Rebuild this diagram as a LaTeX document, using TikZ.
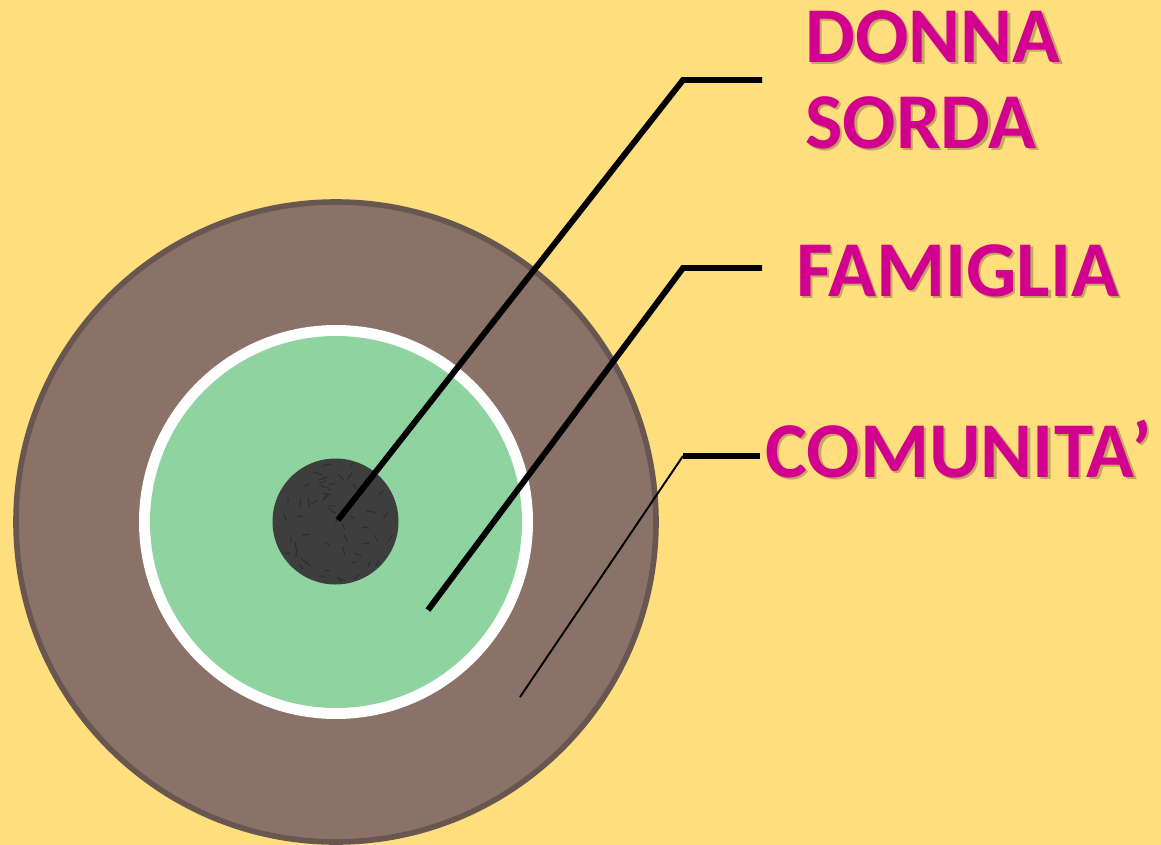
\documentclass[tikz,border=0pt]{standalone}
\usepackage{fontspec}
\newfontfamily\labelfont{Carlito}
\definecolor{bgyellow}{RGB}{255,222,126}
\definecolor{ringbrown}{RGB}{139,114,105}
\definecolor{ringedge}{RGB}{104,86,80}
\definecolor{famgreen}{RGB}{142,211,160}
\definecolor{coredark}{RGB}{62,62,62}
\definecolor{labelpink}{RGB}{210,0,142}
\tikzset{
  leader/.style={black, line width=3.4pt, line cap=butt, line join=miter},
  thinleader/.style={black, line width=1.1pt},
  lbl/.style={anchor=base west, inner sep=0pt, text=labelpink, font=\labelfont\bfseries\fontsize{45}{50}\selectfont},
  lblshadow/.style={anchor=base west, inner sep=0pt, text=black!60!bgyellow, opacity=0.4, font=\labelfont\bfseries\fontsize{45}{50}\selectfont}
}
\begin{document}
\begin{tikzpicture}[x=0.02cm,y=-0.02cm]
\useasboundingbox (0,0) rectangle (1161,845);
\clip (0,0) rectangle (1161,845);
\fill[bgyellow] (0,0) rectangle (1161,845);
% rings
\coordinate (c) at (336,522);
\fill[ringbrown, draw=ringedge, line width=3.2pt] (c) circle (320);
\fill[white] (c) circle (197);
\fill[famgreen] (c) circle (186);
\fill[coredark] (335.5,521.5) circle (63);
\pgfmathsetseed{7}
\begin{scope}
\clip (335.5,521.5) circle (61);
\foreach \i in {1,...,70}{
  \pgfmathsetmacro{\px}{275+rnd*122}
  \pgfmathsetmacro{\py}{460+rnd*122}
  \pgfmathsetmacro{\ang}{rnd*180}
  \draw[black!85, line width=0.6pt, opacity=0.7] (\px,\py) -- ++(\ang:4+rnd*6);
}
\end{scope}
% anchor points
\coordinate (donnaEnd) at (338,520);
\coordinate (donnaBend) at (683,80);
\coordinate (donnaTip) at (762,80);
\coordinate (famEnd) at (428,610);
\coordinate (famBend) at (683,268);
\coordinate (famTip) at (762,268);
\coordinate (comEnd) at (520,697);
\coordinate (comBend) at (683,456);
\coordinate (comTip) at (760,456);
% leaders
\draw[leader] (donnaEnd) -- (donnaBend) -- (donnaTip);
\draw[leader] (famEnd) -- (famBend) -- (famTip);
\draw[thinleader] (comEnd) -- (comBend);
\draw[leader] (comBend) -- (comTip);
% labels with shadow
\node[lblshadow] at (807.5,64.5) {DONNA};
\node[lblshadow] at (807.5,150.5) {SORDA};
\node[lblshadow] at (798.5,298.5) {FAMIGLIA};
\node[lblshadow] at (767.5,479.5) {COMUNITA’};
\node[lbl] (donna) at (805,62) {DONNA};
\node[lbl] (sorda) at (805,148) {SORDA};
\node[lbl] (famiglia) at (796,296) {FAMIGLIA};
\node[lbl] (comunita) at (765,477) {COMUNITA’};
\end{tikzpicture}
\end{document}
